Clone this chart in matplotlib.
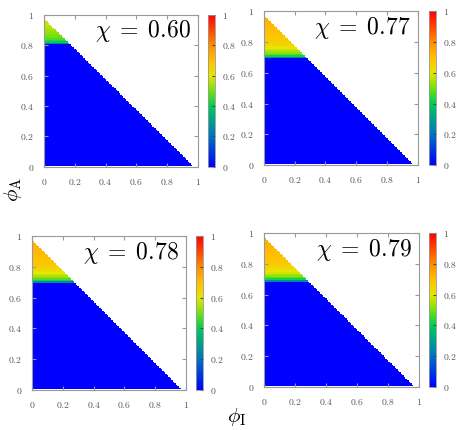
import numpy as np
import matplotlib
matplotlib.use('Agg')
import matplotlib.pyplot as plt
from matplotlib.colors import LinearSegmentedColormap

plt.rcParams['mathtext.fontset'] = 'cm'
plt.rcParams['font.family'] = 'serif'

# data
chi_labels = ['0.60', '0.77', '0.78', '0.79']
phi_max = 0.98          # phi_A + phi_I limit of the filled triangle
step = 0.01
# first row (phi_A) of the coloured cap in each panel
cap_start = [0.81, 0.70, 0.70, 0.69]
# value of each row of the cap, from cap_start upward
cap_060 = [0.25, 0.40, 0.44, 0.47, 0.49, 0.50, 0.51, 0.52, 0.53, 0.54, 0.55,
           0.56, 0.57, 0.57, 0.58, 0.58, 0.59]
cap_077 = [0.25, 0.42, 0.48, 0.52, 0.55, 0.58, 0.60, 0.62, 0.64, 0.65, 0.66,
           0.67, 0.67, 0.68, 0.68, 0.69, 0.69, 0.70, 0.70, 0.70, 0.71, 0.71,
           0.71, 0.72, 0.72, 0.72, 0.72, 0.72]
cap_078 = [0.25, 0.42, 0.48, 0.52, 0.55, 0.58, 0.60, 0.62, 0.64, 0.65, 0.66,
           0.67, 0.68, 0.68, 0.69, 0.69, 0.70, 0.70, 0.70, 0.71, 0.71, 0.71,
           0.72, 0.72, 0.72, 0.72, 0.72, 0.72]
cap_079 = [0.25, 0.42, 0.48, 0.52, 0.55, 0.58, 0.60, 0.62, 0.64, 0.65, 0.66,
           0.67, 0.68, 0.68, 0.69, 0.69, 0.70, 0.70, 0.70, 0.71, 0.71, 0.71,
           0.72, 0.72, 0.72, 0.72, 0.72, 0.72, 0.72]
caps = [cap_060, cap_077, cap_078, cap_079]

ticks = [0, 0.2, 0.4, 0.6, 0.8, 1]
tick_labels = ['0', '0.2', '0.4', '0.6', '0.8', '1']

# panel boxes in figure fractions [left, bottom, width, height], colorbar left
boxes = [[0.096, 0.612, 0.336, 0.354, 0.454],
         [0.576, 0.616, 0.336, 0.358, 0.937],
         [0.070, 0.093, 0.336, 0.358, 0.428],
         [0.576, 0.100, 0.338, 0.358, 0.937]]

cmap = LinearSegmentedColormap.from_list('pal', [
    (0.0, (0.0, 0.0, 1.0)),
    (0.2, (0.0, 0.45, 0.75)),
    (0.4, (0.0, 0.80, 0.35)),
    (0.5, (0.45, 0.88, 0.05)),
    (0.6, (0.90, 0.90, 0.0)),
    (0.7, (1.0, 0.75, 0.0)),
    (0.8, (1.0, 0.55, 0.0)),
    (1.0, (1.0, 0.0, 0.0))])

grey = '#999999'
edges = np.arange(0.005, 0.98, step)
centers = edges[:-1] + step / 2
PI, PA = np.meshgrid(centers, centers)

fig = plt.figure(figsize=(4.58, 4.30), dpi=100)

for k in range(4):
    b = boxes[k]
    ax = fig.add_axes([b[0], b[1], b[2], b[3]])
    z = np.zeros_like(PA)
    for i, v in enumerate(caps[k]):
        row = np.isclose(centers, cap_start[k] + i * step)
        z[row, :] = v
    z = np.ma.masked_where(PA + PI > phi_max - 0.005, z)
    ax.pcolormesh(edges, edges, z, cmap=cmap, vmin=0, vmax=1)
    ax.set_xlim(0, 1)
    ax.set_ylim(0, 1)
    ax.set_xticks(ticks)
    ax.set_yticks(ticks)
    ax.set_xticklabels(['$%s$' % t for t in tick_labels])
    ax.set_yticklabels(['$%s$' % t for t in tick_labels])
    ax.tick_params(direction='in', top=True, right=True, length=3,
                   color=grey, labelsize=7, labelcolor='#555555', pad=7)
    for s in ax.spines.values():
        s.set_color(grey)
        s.set_linewidth(0.8)
    ax.text(0.955, 0.89, r'$\chi\;=\;%s$' % chi_labels[k], transform=ax.transAxes,
            ha='right', va='center', fontsize=17)

    cax = fig.add_axes([b[4], b[1], 0.016, b[3]])
    cb = fig.colorbar(plt.cm.ScalarMappable(cmap=cmap, norm=plt.Normalize(0, 1)),
                      cax=cax, ticks=ticks)
    cb.ax.set_yticklabels(['$%s$' % t for t in tick_labels])
    cb.ax.tick_params(direction='in', length=2, color='#444444', labelsize=7,
                      labelcolor='#555555', pad=5)
    cb.outline.set_edgecolor(grey)
    cb.outline.set_linewidth(0.6)

fig.text(0.028, 0.56, r'$\phi_{\mathrm{A}}$', rotation=90, fontsize=15,
         ha='center', va='center')
fig.text(0.517, 0.03, r'$\phi_{\mathrm{I}}$', fontsize=15,
         ha='center', va='center')

fig.savefig('out.png', dpi=100)
